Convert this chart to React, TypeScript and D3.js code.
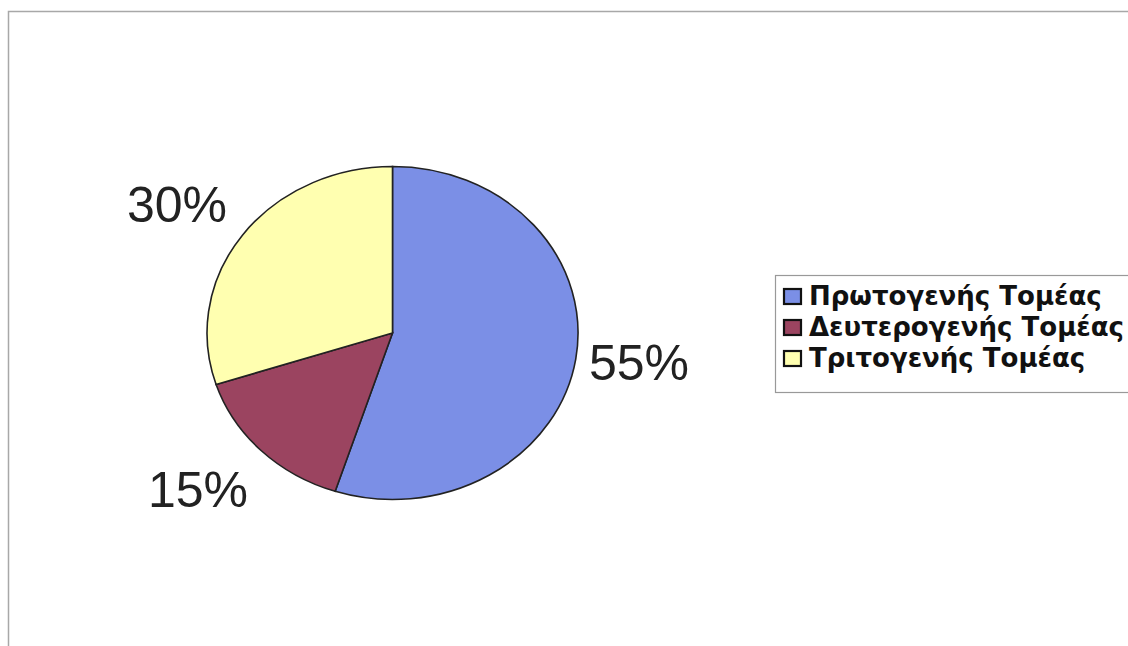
import React from "react";
import * as d3 from "d3";

const categories = ["Πρωτογενής Τομέας", "Δευτερογενής Τομέας", "Τριτογενής Τομέας"];
const values = [55, 15, 30];
const colors = ["#7b8fe6", "#9b4460", "#ffffb0"];
const labels = ["55%", "15%", "30%"];

export default function App() {
  const W = 1128, H = 646;
  const cx = 392.5, cy = 333, rx = 185.5, ry = 166.5;
  const pie = d3.pie<number>().sort(null).value((d) => d)(values);
  const arc = d3.arc<d3.PieArcDatum<number>>().innerRadius(0).outerRadius(1);
  const labelPos = [
    { x: 639, y: 380 },
    { x: 198, y: 507 },
    { x: 177, y: 222 },
  ];
  return (
    <svg width={W} height={H} style={{ position: "fixed", left: 0, top: 0, background: "#fff" }}>
      <rect x={0} y={0} width={W} height={H} fill="#fff" />
      <path d={`M8.5,${H} L8.5,11.5 L${W},11.5`} fill="none" stroke="#a8a8a8" strokeWidth={1.5} />
      <g transform={`translate(${cx},${cy}) scale(${rx},${ry})`}>
        {pie.map((p, i) => (
          <path key={i} d={arc(p) || ""} fill={colors[i]} stroke="#222" strokeWidth={1.6} vectorEffect="non-scaling-stroke" />
        ))}
      </g>
      {labels.map((l, i) => (
        <text key={i} x={labelPos[i].x} y={labelPos[i].y} textAnchor="middle" fontFamily="Liberation Sans, Arial, sans-serif" fontSize={50} fill="#222">{l}</text>
      ))}
      <rect x={775.5} y={275.5} width={360} height={117} fill="#fff" stroke="#999" strokeWidth={1.2} />
      {categories.map((c, i) => (
        <g key={i}>
          <rect x={784} y={289 + i * 31} width={17} height={15} fill={colors[i]} stroke="#111" strokeWidth={2.2} />
          <text x={809} y={305 + i * 31} fontFamily="DejaVu Sans, Verdana, sans-serif" fontWeight="bold" fontSize={26} fill="#111">{c}</text>
        </g>
      ))}
    </svg>
  );
}
